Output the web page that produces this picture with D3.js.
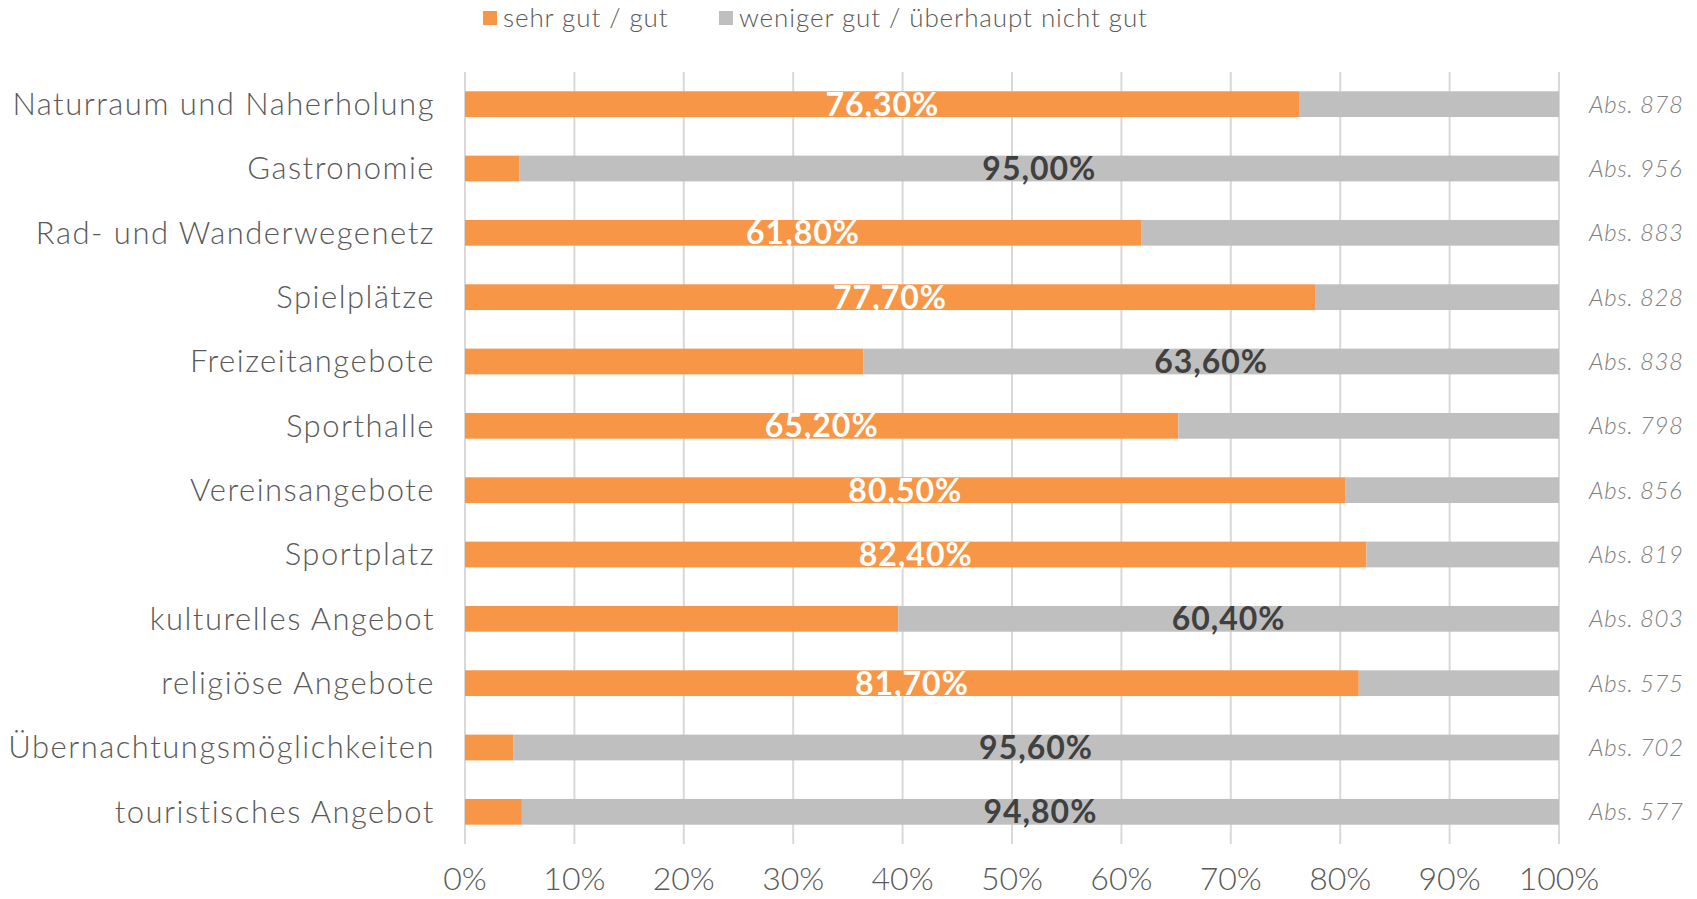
<!DOCTYPE html>
<html lang="de">
<head>
  <meta charset="UTF-8">
  <title>Bewertung Angebote</title>
  <script src="https://d3js.org/d3.v7.min.js"></script>
  <style>
    body {
      margin: 0;
      background: #ffffff;
      font-family: 'Lato', 'Open Sans', sans-serif;
    }
    svg { display: block; }
  </style>
</head>
<body>
  <svg id="chart" width="1697" height="899"></svg>

  <script>
    // data
    const categories = [
      "Naturraum und Naherholung", "Gastronomie", "Rad- und Wanderwegenetz",
      "Spielplätze", "Freizeitangebote", "Sporthalle", "Vereinsangebote",
      "Sportplatz", "kulturelles Angebot", "religiöse Angebote",
      "Übernachtungsmöglichkeiten", "touristisches Angebot"
    ];
    const goodValues = [76.3, 5.0, 61.8, 77.7, 36.4, 65.2, 80.5, 82.4, 39.6, 81.7, 4.4, 5.2];
    const badValues  = [23.7, 95.0, 38.2, 22.3, 63.6, 34.8, 19.5, 17.6, 60.4, 18.3, 95.6, 94.8];
    const absCounts  = [878, 956, 883, 828, 838, 798, 856, 819, 803, 575, 702, 577];
    const seriesNames = ["sehr gut / gut", "weniger gut / überhaupt nicht gut"];
    const tickValues = [0, 10, 20, 30, 40, 50, 60, 70, 80, 90, 100];

    const colors = ["#f79646", "#bfbfbf"];

    const width = 1697, height = 899;
    const margin = { top: 72, right: 138, bottom: 55, left: 465 };

    const svg = d3.select("#chart");

    const x = d3.scaleLinear()
      .domain([0, 100])
      .range([margin.left, width - margin.right]);

    const y = d3.scaleBand()
      .domain(categories)
      .range([margin.top, height - margin.bottom])
      .paddingInner(0.6)
      .paddingOuter(0.3);

    const fmt = v => d3.format(".2f")(v).replace(".", ",") + "%";

    // gridlines
    svg.append("g")
      .selectAll("line")
      .data(tickValues)
      .join("line")
      .attr("x1", d => x(d)).attr("x2", d => x(d))
      .attr("y1", margin.top).attr("y2", height - margin.bottom)
      .attr("stroke", "#d9d9d9")
      .attr("stroke-width", 2);

    // x axis labels
    svg.append("g")
      .selectAll("text")
      .data(tickValues)
      .join("text")
      .attr("x", d => x(d))
      .attr("y", 882)
      .attr("text-anchor", "middle")
      .attr("dominant-baseline", "middle")
      .attr("fill", "#595959")
      .style("font-size", "32px")
      .style("font-weight", 300)
      .text(d => d + "%");

    const rows = categories.map((c, i) => ({
      cat: c, good: goodValues[i], bad: badValues[i], abs: absCounts[i]
    }));

    const row = svg.append("g")
      .selectAll("g")
      .data(rows)
      .join("g")
      .attr("transform", d => `translate(0,${y(d.cat)})`);

    row.append("rect")
      .attr("x", x(0))
      .attr("width", d => x(d.good) - x(0))
      .attr("height", y.bandwidth())
      .attr("fill", colors[0]);

    row.append("rect")
      .attr("x", d => x(d.good))
      .attr("width", d => x(100) - x(d.good))
      .attr("height", y.bandwidth())
      .attr("fill", colors[1]);

    // value label on the larger segment
    row.append("text")
      .attr("x", d => d.good >= d.bad ? x(d.good / 2) : x(d.good + d.bad / 2))
      .attr("y", y.bandwidth() / 2)
      .attr("dy", "0.36em")
      .attr("text-anchor", "middle")
      .attr("fill", d => d.good >= d.bad ? "#ffffff" : "#404040")
      .style("font-size", "32px")
      .style("font-weight", 700)
      .style("letter-spacing", "1px")
      .text(d => d.good >= d.bad ? fmt(d.good) : fmt(d.bad));

    // category labels
    row.append("text")
      .attr("x", margin.left - 30)
      .attr("y", y.bandwidth() / 2)
      .attr("dy", "0.35em")
      .attr("text-anchor", "end")
      .attr("fill", "#595959")
      .style("font-size", "31px")
      .style("font-weight", 300)
      .style("letter-spacing", "1.5px")
      .text(d => d.cat);

    // absolute counts
    row.append("text")
      .attr("x", x(100) + 30)
      .attr("y", y.bandwidth() / 2)
      .attr("dy", "0.35em")
      .attr("fill", "#808080")
      .style("font-size", "24px")
      .style("font-style", "italic")
      .style("font-weight", 300)
      .style("letter-spacing", "0.6px")
      .text(d => "Abs. " + d.abs);

    // legend
    const legend = svg.append("g")
      .selectAll("g")
      .data(seriesNames)
      .join("g")
      .attr("transform", (d, i) => `translate(${i === 0 ? 483 : 719},18)`);

    legend.append("rect")
      .attr("y", -7)
      .attr("width", 14)
      .attr("height", 14)
      .attr("fill", (d, i) => colors[i]);

    legend.append("text")
      .attr("x", 20)
      .attr("dy", "0.35em")
      .attr("fill", "#595959")
      .style("font-size", "26px")
      .style("font-weight", 300)
      .style("letter-spacing", "0.9px")
      .text(d => d);
  </script>
</body>
</html>
